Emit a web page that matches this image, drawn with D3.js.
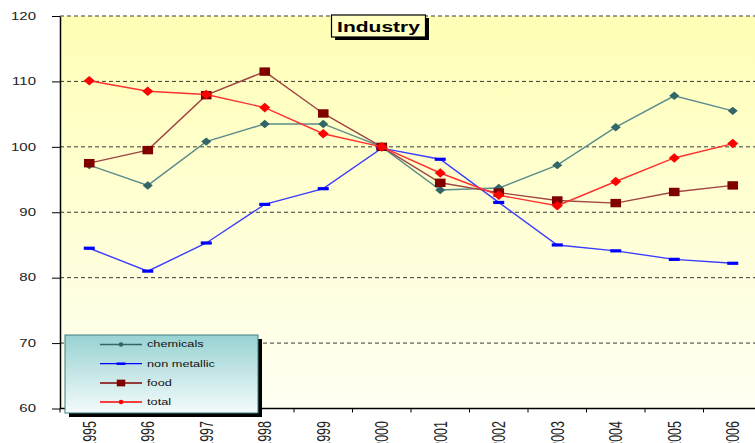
<!DOCTYPE html>
<html>
<head>
<meta charset="utf-8">
<script src="https://cdn.jsdelivr.net/npm/d3@7"></script>
<style>
  html, body { margin: 0; padding: 0; background: #fff; }
  svg { display: block; font-family: "Liberation Sans", Arial, sans-serif; }
</style>
</head>
<body>
<div id="chart"></div>
<script>
// Industry indices 1995-2006 (2000 = 100), four series on a category axis.
const years = ['1995', '1996', '1997', '1998', '1999', '2000', '2001', '2002', '2003', '2004', '2005', '2006'];
const chemicals   = [97.2, 94.1, 100.8, 103.5, 103.5, 100.0, 93.4, 93.7, 97.2, 103.0, 107.8, 105.5];
const nonMetallic = [84.5, 81.0, 85.3, 91.2, 93.6, 99.8, 98.1, 91.5, 85.0, 84.1, 82.8, 82.2];
const food        = [97.5, 99.5, 107.9, 111.5, 105.1, 100.0, 94.5, 93.0, 91.8, 91.4, 93.1, 94.1];
const total       = [110.1, 108.5, 108.0, 106.0, 102.0, 100.0, 96.0, 92.6, 91.0, 94.7, 98.3, 100.5];
const yTicks = [60, 70, 80, 90, 100, 110, 120];
const seriesNames = ['chemicals', 'non metallic', 'food', 'total'];

const series = [
    {name: seriesNames[0], values: chemicals,   line: '#5a8c8c', fill: '#336666', marker: 'diamond'},
    {name: seriesNames[1], values: nonMetallic, line: '#3c3cff', fill: '#0000ff', marker: 'dash'},
    {name: seriesNames[2], values: food,        line: '#a04444', fill: '#800000', marker: 'square'},
    {name: seriesNames[3], values: total,       line: '#ff3030', fill: '#ff0000', marker: 'bigdiamond'}
];

const W = 755, H = 443;
const plot = {left: 60, top: 16, right: 762, bottom: 408.5};
const SX = 1.5;   // the picture is stretched horizontally, text included

const svg = d3.select('#chart').append('svg')
    .attr('width', W).attr('height', H);

const defs = svg.append('defs');
const bg = defs.append('linearGradient').attr('id', 'bg')
    .attr('x1', 0).attr('y1', 0).attr('x2', 0).attr('y2', 1);
bg.append('stop').attr('offset', '0%').attr('stop-color', '#ffffb6');
bg.append('stop').attr('offset', '100%').attr('stop-color', '#fffff3');
const lg = defs.append('linearGradient').attr('id', 'lg')
    .attr('x1', 0).attr('y1', 0).attr('x2', 0).attr('y2', 1);
lg.append('stop').attr('offset', '0%').attr('stop-color', '#98d2d2');
lg.append('stop').attr('offset', '100%').attr('stop-color', '#f4fbfb');

const x = d3.scaleBand().domain(years).range([plot.left, plot.right]);
const y = d3.scaleLinear().domain([60, 120]).range([plot.bottom, plot.top]);
const cx = d => x(d) + x.bandwidth() / 2;

svg.append('rect')
    .attr('x', plot.left).attr('y', plot.top)
    .attr('width', plot.right - plot.left).attr('height', plot.bottom - plot.top)
    .attr('fill', 'url(#bg)');

// dashed gridlines
svg.append('g').selectAll('line')
    .data(yTicks.filter(v => v > 60))
    .join('line')
    .attr('x1', plot.left).attr('x2', plot.right)
    .attr('y1', d => y(d)).attr('y2', d => y(d))
    .attr('stroke', '#3a3a3a').attr('stroke-width', 1)
    .attr('stroke-dasharray', '4,3');

// y axis
const yAxis = svg.append('g')
    .attr('transform', `translate(${plot.left},0)`)
    .call(d3.axisLeft(y).tickValues(yTicks).tickSize(8).tickSizeOuter(0));
yAxis.select('.domain').attr('stroke', '#000').attr('stroke-width', 1.5);
yAxis.selectAll('.tick line').attr('stroke', '#000');
yAxis.selectAll('.tick text')
    .attr('x', -24 / SX)
    .attr('transform', `scale(${SX},1)`)
    .attr('font-size', 10)
    .attr('font-family', '"Liberation Sans", Arial, sans-serif')
    .attr('fill', '#222');

// x axis: ticks on category boundaries, labels rotated
const xAxis = svg.append('g');
xAxis.append('line')
    .attr('x1', plot.left).attr('x2', plot.right)
    .attr('y1', plot.bottom).attr('y2', plot.bottom)
    .attr('stroke', '#000').attr('stroke-width', 1.5);
xAxis.selectAll('.xt')
    .data(years)
    .join('line')
    .attr('class', 'xt')
    .attr('x1', d => x(d)).attr('x2', d => x(d))
    .attr('y1', plot.bottom).attr('y2', plot.bottom + 4)
    .attr('stroke', '#000');
xAxis.selectAll('text')
    .data(years)
    .join('text')
    .attr('transform', d => `translate(${cx(d)},421) scale(${SX},1) rotate(-90)`)
    .attr('text-anchor', 'end')
    .attr('dy', '0.35em')
    .attr('font-size', 12.5)
    .attr('fill', '#222')
    .text(d => d);

// markers
function drawMarker(g, type, color, px, py, scale) {
    const s = scale || 1;
    if (type === 'diamond' || type === 'bigdiamond') {
        const w = (type === 'bigdiamond' ? 5.5 : 5) * s, h = (type === 'bigdiamond' ? 4.8 : 4.2) * s;
        g.append('path')
            .attr('d', `M${px - w},${py}L${px},${py - h}L${px + w},${py}L${px},${py + h}Z`)
            .attr('fill', color);
    } else if (type === 'square') {
        const w = 5.3 * s, h = 4.2 * s;
        g.append('rect').attr('x', px - w).attr('y', py - h)
            .attr('width', 2 * w).attr('height', 2 * h).attr('fill', color);
    } else {
        const w = 5.5 * s, h = 1.6 * s;
        g.append('rect').attr('x', px - w).attr('y', py - h)
            .attr('width', 2 * w).attr('height', 2 * h).attr('fill', color);
    }
}

const line = d3.line().x(d => cx(d.year)).y(d => y(d.v));
series.forEach(s => {
    const pts = years.map((yr, i) => ({year: yr, v: s.values[i]}));
    const g = svg.append('g');
    g.append('path').datum(pts)
        .attr('d', line)
        .attr('fill', 'none')
        .attr('stroke', s.line)
        .attr('stroke-width', 1.4);
    pts.forEach(p => drawMarker(g, s.marker, s.fill, cx(p.year), y(p.v)));
});

// title box
const title = svg.append('g');
title.append('rect').attr('x', 335).attr('y', 18).attr('width', 94).attr('height', 22).attr('fill', '#000');
title.append('rect').attr('x', 331.5).attr('y', 15).attr('width', 94).attr('height', 22)
    .attr('fill', '#ffffc2').attr('stroke', '#000').attr('stroke-width', 1.2);
title.append('text')
    .attr('transform', `translate(378.5,31.5) scale(${SX},1)`)
    .attr('text-anchor', 'middle')
    .attr('font-size', 14).attr('font-weight', 'bold')
    .attr('fill', '#000')
    .text('Industry');

// legend
const legend = svg.append('g');
legend.append('rect').attr('x', 69).attr('y', 339).attr('width', 193).attr('height', 78).attr('fill', '#000');
legend.append('rect').attr('x', 65).attr('y', 335).attr('width', 193).attr('height', 78)
    .attr('fill', 'url(#lg)').attr('stroke', '#3f7f7f').attr('stroke-width', 1);
const legendRows = [344.5, 363.7, 383, 402];
const legendMarkers = ['dot', 'dash', 'square', 'dot'];
series.forEach((s, i) => {
    const ly = legendRows[i];
    legend.append('line')
        .attr('x1', 100).attr('x2', 142).attr('y1', ly).attr('y2', ly)
        .attr('stroke', s.fill).attr('stroke-width', 1.3);
    if (legendMarkers[i] === 'dot') {
        legend.append('circle').attr('cx', 121).attr('cy', ly).attr('r', 2.3).attr('fill', s.fill);
    } else {
        drawMarker(legend, legendMarkers[i], s.fill, 121, ly, 0.8);
    }
    legend.append('text')
        .attr('transform', `translate(147,${ly}) scale(${SX},1)`)
        .attr('dy', '0.35em')
        .attr('font-size', 8.5)
        .attr('fill', '#111')
        .text(s.name);
});
</script>
</body>
</html>
